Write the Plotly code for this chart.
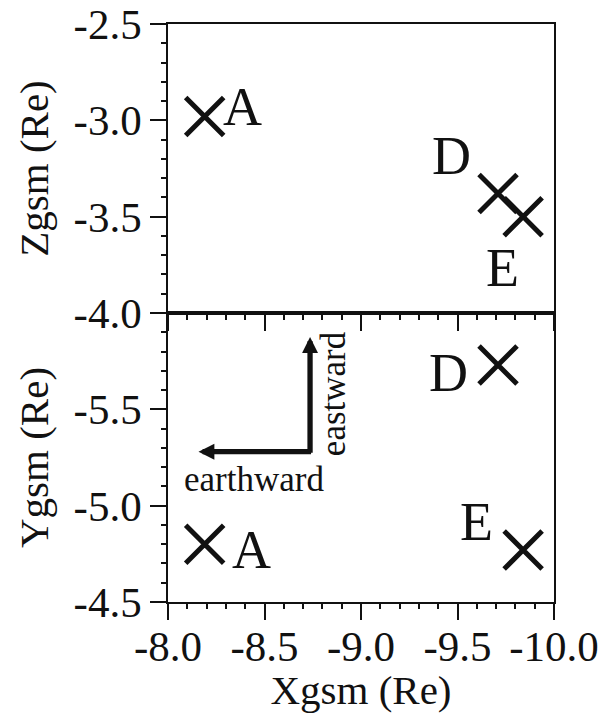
import plotly.graph_objects as go

# ---- data ----
names = ["A", "D", "E"]
x_vals = [-8.19, -9.71, -9.84]          # Xgsm (Re)
z_vals = [-2.98, -3.38, -3.50]          # Zgsm (Re)
y_vals = [-4.80, -5.73, -4.77]          # Ygsm (Re)

x_ticks = [-8.0, -8.5, -9.0, -9.5, -10.0]
x_ticktext = ["-8.0", "-8.5", "-9.0", "-9.5", "-10.0"]
z_ticks = [-2.5, -3.0, -3.5, -4.0]
z_ticktext = ["-2.5", "-3.0", "-3.5", "-4.0"]
y_ticks = [-5.5, -5.0, -4.5]
y_ticktext = ["-5.5", "-5.0", "-4.5"]

# label offsets (px) relative to each point: top panel, bottom panel
top_shift = [(38, 9), (-47, 38), (-21, -51)]
bot_shift = [(47, -6), (-50, -8), (-47, 28)]

# arrow geometry (data coords in bottom panel)
arrow_corner = (-8.736, -5.28)
arrow_up_tip = (-8.736, -5.875)
arrow_left_tip = (-8.158, -5.28)

FONT = "Liberation Serif"
BLACK = "#111111"

fig = go.Figure()

marker = dict(symbol="x-thin", size=38, color=BLACK, line=dict(width=5, color=BLACK))
fig.add_trace(go.Scatter(x=x_vals, y=z_vals, mode="markers", marker=marker,
                         xaxis="x", yaxis="y", showlegend=False, hoverinfo="skip"))
fig.add_trace(go.Scatter(x=x_vals, y=y_vals, mode="markers", marker=marker,
                         xaxis="x2", yaxis="y2", showlegend=False, hoverinfo="skip"))

annotations = []
for n, xv, zv, (dx, dy) in zip(names, x_vals, z_vals, top_shift):
    annotations.append(dict(x=xv, y=zv, xref="x", yref="y", text=n, showarrow=False,
                            xshift=dx, yshift=dy, font=dict(family=FONT, size=54, color=BLACK)))
for n, xv, yv, (dx, dy) in zip(names, x_vals, y_vals, bot_shift):
    annotations.append(dict(x=xv, y=yv, xref="x2", yref="y2", text=n, showarrow=False,
                            xshift=dx, yshift=dy, font=dict(family=FONT, size=54, color=BLACK)))

# arrows
annotations.append(dict(x=arrow_up_tip[0], y=arrow_up_tip[1], xref="x2", yref="y2",
                        ax=arrow_corner[0], ay=arrow_corner[1] + 0.013, axref="x2", ayref="y2",
                        text="", showarrow=True, arrowhead=2, arrowsize=0.6, arrowwidth=5.3,
                        arrowcolor=BLACK))
annotations.append(dict(x=arrow_left_tip[0], y=arrow_left_tip[1], xref="x2", yref="y2",
                        ax=arrow_corner[0] - 0.013, ay=arrow_corner[1], axref="x2", ayref="y2",
                        text="", showarrow=True, arrowhead=2, arrowsize=0.6, arrowwidth=5.3,
                        arrowcolor=BLACK))
annotations.append(dict(x=arrow_corner[0], y=arrow_corner[1], xref="x2", yref="y2",
                        text="earthward", showarrow=False, xanchor="center", yanchor="top",
                        xshift=-56, yshift=-6, font=dict(family=FONT, size=35, color=BLACK)))
annotations.append(dict(x=arrow_corner[0], y=arrow_up_tip[1], xref="x2", yref="y2",
                        text="eastward", showarrow=False, textangle=-90, xanchor="left",
                        yanchor="top", xshift=2, yshift=8,
                        font=dict(family=FONT, size=35, color=BLACK)))

tickfont = dict(family=FONT, size=43, color=BLACK)
titlefont = dict(family=FONT, size=41, color=BLACK)

common = dict(showgrid=False, zeroline=False, linecolor=BLACK, linewidth=1.5,
              tickcolor=BLACK, tickwidth=1.5, automargin=False)

xrange_ = [x_ticks[0], x_ticks[-1]]
zrange_ = [z_ticks[-1], z_ticks[0]]
yrange_ = [y_ticks[-1], -6.0]

fig.update_layout(
    width=607, height=713,
    margin=dict(l=168, r=53, t=24, b=111),
    paper_bgcolor="white", plot_bgcolor="white",
    font=dict(family=FONT, color=BLACK),
    xaxis=dict(domain=[0, 1], anchor="y", range=xrange_, tickvals=x_ticks,
               showticklabels=False, ticks="outside", ticklen=16, showline=True, mirror=True,
               minor=dict(dtick=0.1, tick0=-8, ticks="outside", ticklen=5,
                          tickcolor=BLACK, tickwidth=1.5), **common),
    yaxis=dict(domain=[0.5, 1], anchor="x", range=zrange_, tickvals=z_ticks,
               ticktext=z_ticktext, tickfont=tickfont, ticks="outside", ticklen=16,
               showline=True, mirror=True,
               title=dict(text="Zgsm (Re)", font=titlefont, standoff=12),
               minor=dict(dtick=0.1, tick0=-4, ticks="outside", ticklen=5,
                          tickcolor=BLACK, tickwidth=1.5), **common),
    xaxis2=dict(domain=[0, 1], anchor="y2", range=xrange_, tickvals=x_ticks,
                ticktext=x_ticktext, tickfont=tickfont, ticks="outside", ticklen=16,
                showline=True, mirror=True, ticklabelstandoff=-10,
                title=dict(text="Xgsm (Re)", font=titlefont, standoff=2),
                minor=dict(dtick=0.1, tick0=-8, ticks="outside", ticklen=5,
                           tickcolor=BLACK, tickwidth=1.5), **common),
    yaxis2=dict(domain=[0, 0.5], anchor="x2", range=yrange_, tickvals=y_ticks,
                ticktext=y_ticktext, tickfont=tickfont, ticks="outside", ticklen=16,
                showline=True, mirror=True,
                title=dict(text="Ygsm (Re)", font=titlefont, standoff=12),
                minor=dict(dtick=0.1, tick0=-6, ticks="outside", ticklen=5,
                           tickcolor=BLACK, tickwidth=1.5), **common),
    # inside ticks on top / right edges
    xaxis3=dict(overlaying="x", anchor="y", side="top", range=xrange_, tickvals=x_ticks,
                showticklabels=False, ticks="inside", ticklen=16, showline=False,
                minor=dict(dtick=0.1, tick0=-8, ticks="inside", ticklen=6,
                           tickcolor=BLACK, tickwidth=1.5), **common),
    xaxis4=dict(overlaying="x2", anchor="y2", side="top", range=xrange_, tickvals=x_ticks,
                showticklabels=False, ticks="inside", ticklen=16, showline=False,
                minor=dict(dtick=0.1, tick0=-8, ticks="inside", ticklen=6,
                           tickcolor=BLACK, tickwidth=1.5), **common),
    yaxis3=dict(overlaying="y", anchor="x", side="right", range=zrange_, tickvals=z_ticks,
                showticklabels=False, ticks="inside", ticklen=16, showline=False,
                minor=dict(dtick=0.1, tick0=-4, ticks="inside", ticklen=5,
                           tickcolor=BLACK, tickwidth=1.5), **common),
    yaxis4=dict(overlaying="y2", anchor="x2", side="right", range=yrange_, tickvals=y_ticks,
                showticklabels=False, ticks="inside", ticklen=16, showline=False,
                minor=dict(dtick=0.1, tick0=-6, ticks="inside", ticklen=5,
                           tickcolor=BLACK, tickwidth=1.5), **common),
    annotations=annotations,
)

fig.write_html("out.html", config={"displayModeBar": False},
               post_script="document.body.style.margin='0';document.body.style.overflow='hidden';")
